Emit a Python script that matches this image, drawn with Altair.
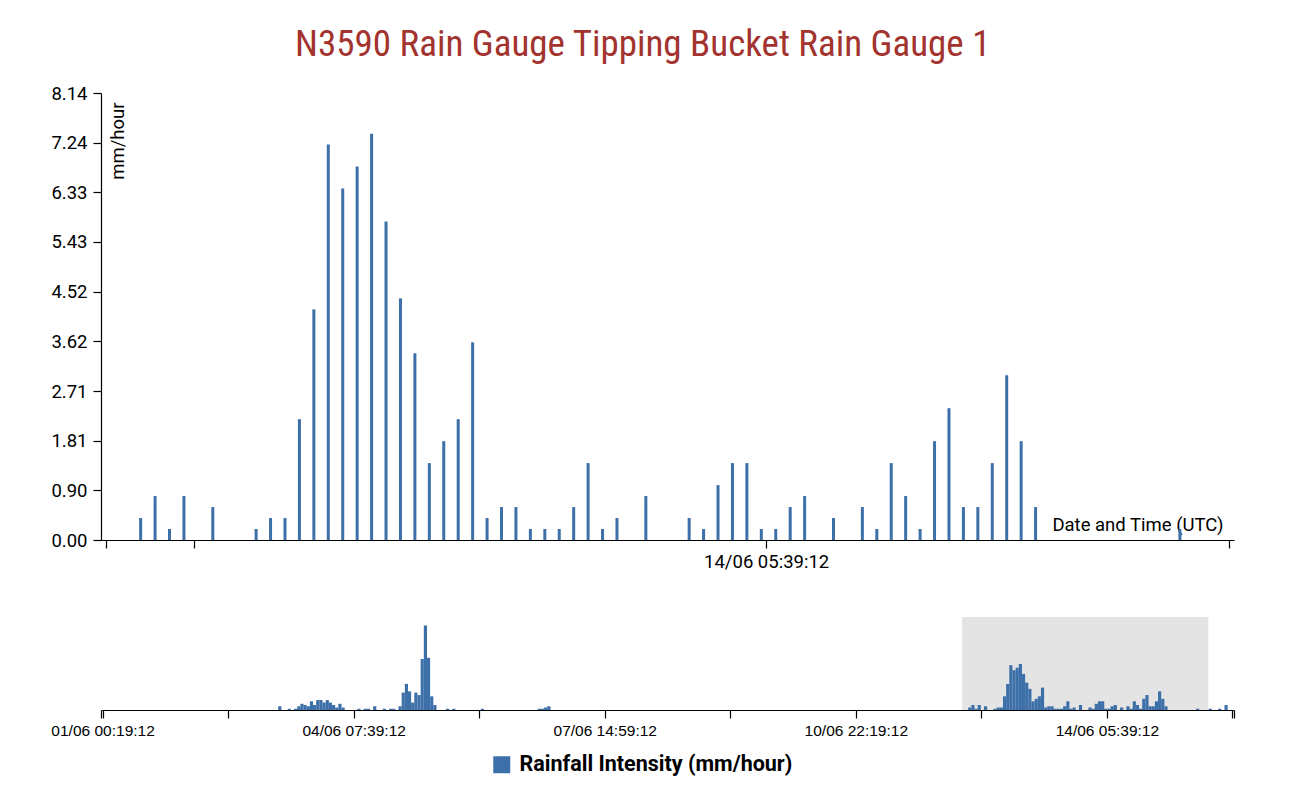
import json
import altair as alt
import pandas as pd

# ---------------- text ----------------
TITLE = "N3590 Rain Gauge Tipping Bucket Rain Gauge 1"
SERIES_NAME = "Rainfall Intensity (mm/hour)"
Y_TITLE = "mm/hour"
X_TITLE = "Date and Time (UTC)"

# ---------------- data ----------------
# hourly readings, hour 0 = first reading
FIRST_READING = "2023-06-01T00:19:12Z"

EPISODE_A_START = 56
EPISODE_A = [0.6, 0, 0, 0.2, 0, 0.2, 0.6, 1.0, 0.8, 0.6, 1.4, 0.8, 1.6, 1.6,
             1.2, 1.6, 1.2, 0.8, 0.4, 1.0, 0.4]

EPISODE_B_START = 81
EPISODE_B = [0.2, 0, 0.2, 0.2, 0, 0.6, 0, 0, 0.2, 0, 0.2, 0.2, 0, 0.6, 2.8,
             4.2, 3.0, 1.2, 2.8, 2.4, 8.2, 13.6, 8.4, 2.2, 0.8, 0, 0, 0, 0.2,
             0, 0.2]

EPISODE_C_START = 120
EPISODE_C = [0.2]

EPISODE_D_START = 138
EPISODE_D = [0.2, 0.2, 0.4, 0.6]

EPISODE_E_START = 274
EPISODE_E = [0.4, 0.8, 0.2, 0.8, 0, 0.6, 0, 0, 0.2, 0.4,
             0.4, 2.2, 4.2, 7.2, 6.4, 6.8, 7.4, 5.8, 4.4, 3.4,
             1.4, 1.8, 2.2, 3.6, 0.4, 0.6, 0.6, 0.2, 0.2, 0.2,
             0.6, 1.4, 0.2, 0.4, 0, 0.8, 0, 0, 0.4, 0.2,
             1.0, 1.4, 1.4, 0.2, 0.2, 0.6, 0.8, 0, 0.4, 0,
             0.6, 0.2, 1.4, 0.8, 0.2, 1.8, 2.4, 0.6, 0.6, 1.4,
             3.0, 1.8, 0.6, 0, 0, 0, 0, 0, 0, 0,
             0, 0, 0.2]

EPISODE_F_START = 350
EPISODE_F = [0.2, 0, 0, 0.2, 0, 0.8]

# context (overview) domain and the selected window (brush)
CONTEXT_DOMAIN = ["2023-05-31T23:49:12Z", "2023-06-15T21:49:12Z"]
BRUSH = ["2023-06-12T07:55:12Z", "2023-06-15T13:43:12Z"]

# axis ticks
X_TICKS = ["2023-06-01T00:19:12Z", "2023-06-02T15:59:12Z", "2023-06-04T07:39:12Z",
           "2023-06-05T23:19:12Z", "2023-06-07T14:59:12Z", "2023-06-09T06:39:12Z",
           "2023-06-10T22:19:12Z", "2023-06-12T13:59:12Z", "2023-06-14T05:39:12Z",
           "2023-06-15T21:19:12Z"]
X_LABELED = ["01/06 00:19:12", "04/06 07:39:12", "07/06 14:59:12",
             "10/06 22:19:12", "14/06 05:39:12"]
Y_MAX = 8.14
Y_TICKS = [0.0, 0.9044, 1.8089, 2.7133, 3.6178, 4.5222, 5.4267, 6.3311, 7.2356, 8.14]
CONTEXT_Y_MAX = 14.96

# ---------------- styling ----------------
BLUE = "#3d6fa8"
TITLE_COLOR = "#a3332e"
BRUSH_COLOR = "#e4e4e4"
TITLE_FONT = "Roboto Condensed, Liberation Sans Narrow, DejaVu Sans Condensed, Roboto"
FONT = "Roboto"

TOP_W, TOP_H = 1133, 447
BOT_W, BOT_H = 1133, 93

# ---------------- build table ----------------
base = pd.Timestamp(FIRST_READING)
episodes = [(EPISODE_A_START, EPISODE_A), (EPISODE_B_START, EPISODE_B),
            (EPISODE_C_START, EPISODE_C), (EPISODE_D_START, EPISODE_D),
            (EPISODE_E_START, EPISODE_E), (EPISODE_F_START, EPISODE_F)]
fmt = "%Y-%m-%dT%H:%M:%SZ"
rows = []
for start, vals in episodes:
    for i, v in enumerate(vals):
        if v > 0:
            t = base + pd.Timedelta(hours=start + i)
            rows.append({
                "t": t.strftime(fmt),
                "t0": (t - pd.Timedelta(minutes=30)).strftime(fmt),
                "t1": (t + pd.Timedelta(minutes=30)).strftime(fmt),
                "v": v,
                "series": SERIES_NAME,
            })
df = pd.DataFrame(rows)
brush_df = pd.DataFrame({"t0": [BRUSH[0]], "t1": [BRUSH[1]]})


def ms(s):
    return int(pd.Timestamp(s).timestamp() * 1000)


label_fmt = "utcFormat(datum.value, '%d/%m %H:%M:%S')"
label_expr = f"indexof({json.dumps(X_LABELED)}, {label_fmt}) >= 0 ? {label_fmt} : ''"

# ---------------- focus chart ----------------
top_ticks = [ms(BRUSH[0]), ms(X_TICKS[7]), ms(X_TICKS[8]), ms(BRUSH[1])]
top = alt.Chart(df).mark_bar(size=3, clip=True, color=BLUE).encode(
    x=alt.X("t:T",
            scale=alt.Scale(type="utc", domain=[ms(BRUSH[0]), ms(BRUSH[1])]),
            axis=alt.Axis(values=top_ticks, labelExpr=label_expr, labelOverlap=False,
                          labelFlush=False, tickSize=8, labelPadding=4, grid=False,
                          title=X_TITLE, titleAnchor="end", titleAlign="right",
                          titleBaseline="alphabetic", titleX=TOP_W - 11, titleY=-10)),
    y=alt.Y("v:Q",
            scale=alt.Scale(domain=[0, Y_MAX], nice=False),
            axis=alt.Axis(values=Y_TICKS, format=".2f", tickSize=8, labelPadding=6,
                          grid=False, title=Y_TITLE, titleAngle=-90, titleAlign="right",
                          titleBaseline="alphabetic", titleX=22, titleY=9)),
).properties(width=TOP_W, height=TOP_H)

# ---------------- context chart ----------------
bot_ticks = [ms(CONTEXT_DOMAIN[0])] + [ms(s) for s in X_TICKS] + [ms(CONTEXT_DOMAIN[1])]
ctx_axis = alt.Axis(values=bot_ticks, labelExpr=label_expr, labelOverlap=False,
                    labelFlush=False, tickSize=8, labelPadding=5, grid=False,
                    labelFont="Liberation Sans", labelFontSize=15.5, title=None)
ctx_scale = alt.Scale(type="utc", domain=[ms(CONTEXT_DOMAIN[0]), ms(CONTEXT_DOMAIN[1])])

brush_rect = alt.Chart(brush_df).mark_rect(color=BRUSH_COLOR).encode(
    x=alt.X("t0:T", scale=ctx_scale, axis=ctx_axis),
    x2="t1:T",
    y=alt.value(0),
    y2=alt.value(BOT_H),
)

ctx_bars = alt.Chart(df).mark_bar(clip=True).encode(
    x=alt.X("t0:T", scale=ctx_scale, axis=ctx_axis),
    x2="t1:T",
    y=alt.Y("v:Q", scale=alt.Scale(domain=[0, CONTEXT_Y_MAX], nice=False), axis=None),
    y2=alt.datum(0),
    color=alt.Color("series:N", scale=alt.Scale(range=[BLUE]),
                    legend=alt.Legend(title=None, orient="none", legendX=390, legendY=661,
                                      symbolType="square", symbolSize=289, symbolStrokeWidth=0,
                                      labelFont=FONT, labelFontSize=21.5, labelFontWeight="bold",
                                      labelColor="#000", labelOffset=7, labelLimit=0)),
)

bottom = alt.layer(brush_rect, ctx_bars).properties(width=BOT_W, height=BOT_H)

chart = alt.vconcat(top, bottom, spacing=46).properties(
    title=alt.TitleParams(TITLE, font=TITLE_FONT, fontSize=37, color=TITLE_COLOR,
                          fontWeight="normal", anchor="middle", offset=20),
    padding={"left": 42, "top": 18, "right": 10, "bottom": 10},
).configure_view(stroke=None).configure_axis(
    labelFont=FONT, labelFontSize=18.5, labelColor="#000",
    titleFont=FONT, titleFontSize=18.5, titleFontWeight="normal", titleColor="#000",
    domainColor="#000", tickColor="#000", domainWidth=1.2, tickWidth=1.2,
)

chart.save("out.html", embed_options={"renderer": "svg", "actions": False})
